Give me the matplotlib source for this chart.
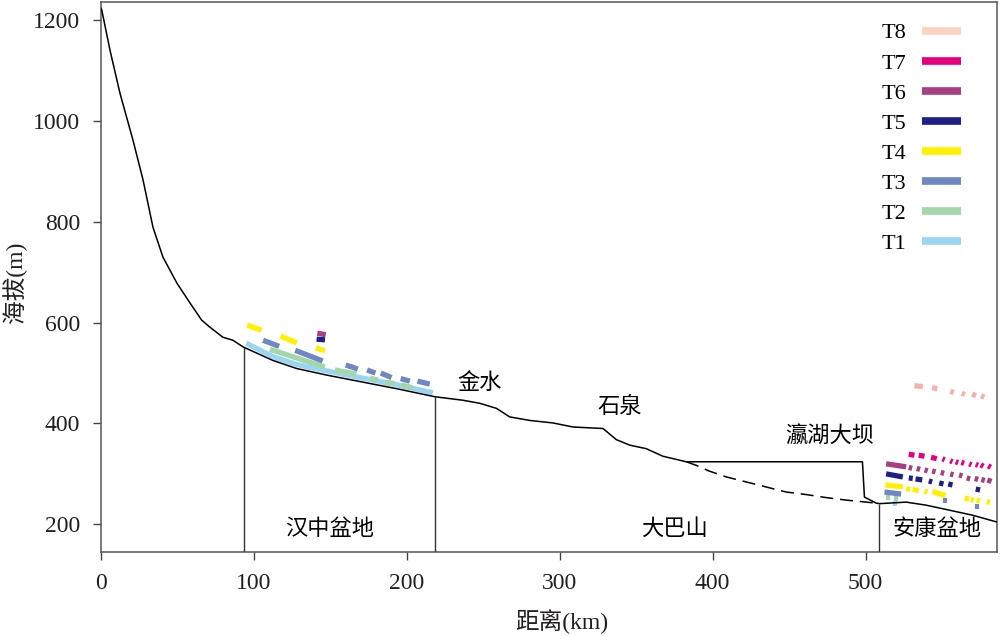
import numpy as np
import matplotlib.pyplot as plt
from matplotlib.lines import Line2D

plt.rcParams['font.family'] = ['Liberation Serif', 'Noto Sans CJK SC']
plt.rcParams['xtick.labelsize'] = 17
plt.rcParams['ytick.labelsize'] = 17

# river long profile (km, m)
prof_km = [0, 0.5, 5.9, 12.4, 20.9, 27.5, 34, 40.5, 49.7, 58.2, 65.8, 71.2, 79.7, 86.3, 92.8,
           112.4, 127.9, 147.5, 171.2, 193.3, 218.3, 236.8, 247.7, 258.6, 267.3, 280.4, 295.6,
           308.7, 328.3, 337, 345.8, 356.6, 367.5, 382.8, 498, 499.3, 507, 509.2, 526.6, 539.6,
           554.9, 570.1, 585.4]
prof_m = [1223, 1220, 1140, 1055, 962, 883, 789, 730, 678, 639, 605, 591, 571, 565, 552,
          525, 509, 496, 482, 469, 453, 446, 440, 430, 413, 406, 401,
          393, 390, 368, 357, 350, 335, 324, 324, 254, 242, 241, 244, 238,
          228, 218, 205]

# old river bed under the reservoir
old_km = [382.8, 389.3, 397.4, 408.9, 422, 435.1, 448.2, 461.2, 474.3, 487.4, 500.5, 507]
old_m = [324, 317, 306, 294, 284, 274, 264, 259, 253, 248, 244, 242]

boundaries = [93.5, 218.3, 508.7]

# terraces: (km0, km1, m0, m1)
t1_km = [95, 112, 128, 148, 171, 193, 217]
t1_m = [559, 533, 517, 504, 490, 477, 461]
T1 = [(519.5, 519.5, 246, 236)]
T2 = [(110.5, 146.4, 547, 512), (153, 167, 506, 498), (176, 181, 490, 486), (186, 192, 482, 479),
      (196.5, 203.7, 476, 471), (514.8, 514.8, 258, 248), (520, 520, 258, 246)]
T3 = [(106, 116.5, 565, 553), (127, 145, 545, 524), (160, 168, 516, 508), (174, 179.5, 506, 500),
      (183, 190, 500, 491), (196, 202, 489, 484), (207, 215, 484, 478), (512.4, 523.3, 264, 260),
      (552.3, 552.3, 253, 243), (573.2, 573.2, 240, 230)]
T4 = [(95.6, 105, 595, 585), (117.4, 128, 573, 560), (140.5, 146.4, 550, 544), (513, 524.4, 278, 274),
      (526.6, 529.2, 271, 269), (530.9, 534.8, 269, 267), (538.6, 540.7, 266, 264),
      (543.8, 552.3, 265, 257), (564.9, 567.8, 252, 250), (568.8, 571, 249, 247.5),
      (572.7, 574.9, 248, 246), (579.3, 581.5, 245, 243.5)]
T5 = [(141, 146.5, 567, 566), (513.5, 524.4, 300, 294), (528.3, 530.9, 292, 291),
      (532.7, 537.1, 290, 288), (541.4, 543.6, 286, 284), (548.2, 551, 282, 280),
      (554.1, 556.9, 280, 278), (572.1, 574.9, 270, 268)]
T6 = [(141.5, 147, 579, 576), (513.5, 526.6, 320, 314), (528.3, 530.5, 313, 311),
      (533.5, 535.7, 311, 309), (538.6, 540.7, 308, 306), (543.6, 545.8, 306, 304),
      (549.2, 551.4, 303, 301), (555.4, 557.5, 300, 298), (561.2, 563.4, 298, 296),
      (566.2, 568.4, 292, 290), (571.4, 573.7, 291, 289), (575.8, 578, 289, 287),
      (579.7, 582.4, 288, 285)]
T7 = [(528.3, 532, 339, 337), (534.8, 538.6, 337, 335), (542.9, 546.6, 333, 330),
      (550.3, 551.8, 330, 328), (555.4, 556.9, 326, 324), (559, 560.6, 324, 322),
      (562.7, 564.5, 323, 321), (567.8, 569.3, 320, 318), (572.1, 573.6, 319, 317),
      (575.4, 577.1, 318, 315), (580.2, 581.9, 316, 313)]
T8 = [(532, 537.5, 475, 473), (543.5, 547, 471, 469), (555.5, 557.7, 464, 461),
      (563, 565, 460, 457), (569.7, 572.3, 458, 455), (575.5, 577.7, 455, 452)]

names = ['T1', 'T2', 'T3', 'T4', 'T5', 'T6', 'T7', 'T8']
terraces = [T1, T2, T3, T4, T5, T6, T7, T8]
colors = ['#9ad6f4', '#a3d6a8', '#6f87c3', '#fff100', '#1d2088', '#a83f83', '#e4007f', '#f5b2ac']
legend_colors = ['#9ad6f4', '#a3d6a8', '#6f87c3', '#fff100', '#1d2088', '#a83f83', '#e4007f', '#fcd2c2']

fig = plt.figure(figsize=(10, 6.36), dpi=100)
ax = fig.add_axes([0.101, 0.132, 0.896, 0.865])

ax.plot(t1_km, t1_m, color=colors[0], lw=3.8, solid_capstyle='butt', zorder=2)
for segs, c in zip(terraces, colors):
    for x0, x1, y0, y1 in segs:
        w = 3.0 if x0 == x1 else 3.8
        ax.plot([x0, x1], [y0, y1], color=c, lw=w, solid_capstyle='butt', zorder=2)

ax.plot(prof_km, prof_m, color='black', lw=1.1, zorder=4)
ax.plot(old_km, old_m, color='black', lw=1.1, ls=(0, (8.5, 4.5)), zorder=4)

for b in boundaries:
    ax.vlines(b, 145, np.interp(b, prof_km, prof_m), color='#333333', lw=1.0, zorder=3)

ax.text(149.7, 190, '汉中盆地', fontsize=16, ha='center', va='center')
ax.text(375, 190, '大巴山', fontsize=16, ha='center', va='center')
ax.text(547, 190, '安康盆地', fontsize=16, ha='center', va='center')
ax.text(247.7, 479, '金水', fontsize=16, ha='center', va='center')
ax.text(339.5, 431, '石泉', fontsize=16, ha='center', va='center')
ax.text(476.5, 373, '瀛湖大坝', fontsize=16, ha='center', va='center')

ax.set_xlim(0, 586)
ax.set_ylim(145, 1236)
ax.set_xticks([0, 100, 200, 300, 400, 500])
ax.set_yticks([200, 400, 600, 800, 1000, 1200])
ax.tick_params(direction='out', length=6, width=1, color='#444444',
               labelcolor='#231f20', pad=9)
for s in ax.spines.values():
    s.set_color('#555555')
    s.set_linewidth(1.1)

ax.set_xlabel('距离(km)', fontsize=17, color='#231f20')
ax.set_ylabel('海拔(m)', fontsize=17, color='#231f20')
ax.xaxis.set_label_coords(0.514, -0.103)
ax.yaxis.set_label_coords(-0.083, 0.49)

handles = [Line2D([], [], color=c, lw=5.5, solid_capstyle='butt') for c in legend_colors[::-1]]
ax.legend(handles, names[::-1], loc='upper right', bbox_to_anchor=(0.961, 0.964),
          bbox_transform=fig.transFigure, frameon=False, markerfirst=False, fontsize=16,
          handlelength=1.77, handletextpad=0.68, labelspacing=0.43, borderpad=0, borderaxespad=0)

fig.savefig('out.png', dpi=100)
